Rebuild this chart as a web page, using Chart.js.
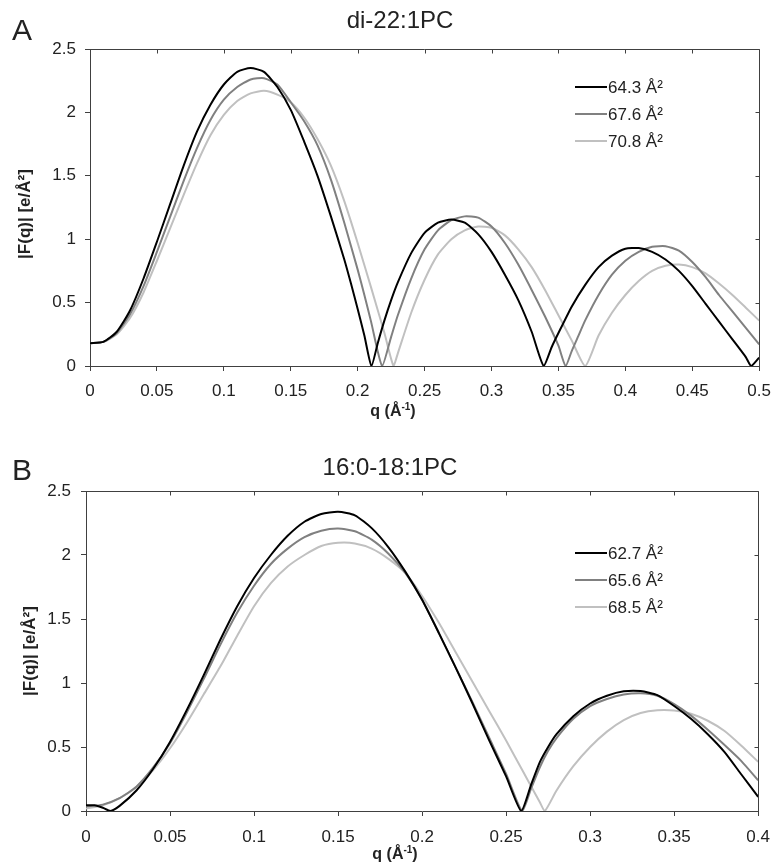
<!DOCTYPE html>
<html>
<head>
<meta charset="utf-8">
<script src="https://cdn.jsdelivr.net/npm/chart.js@4.4.0/dist/chart.umd.min.js"></script>
<style>
  html, body { margin: 0; padding: 0; background: #fff; }
  .panel { position: absolute; left: 0; width: 781px; }
  #pa { top: 0; height: 433px; }
  #pb { top: 433px; height: 434px; }
</style>
</head>
<body>
<div class="panel" id="pa"><canvas id="ca" width="781" height="433"></canvas></div>
<div class="panel" id="pb"><canvas id="cb" width="781" height="434"></canvas></div>
<script>
// tick labels
const xTicksA = [0, 0.05, 0.1, 0.15, 0.2, 0.25, 0.3, 0.35, 0.4, 0.45, 0.5];
const xTicksB = [0, 0.05, 0.1, 0.15, 0.2, 0.25, 0.3, 0.35, 0.4];
const yTicks = [0, 0.5, 1, 1.5, 2, 2.5];

// series labels
const labelsA = ['64.3 Å²', '67.6 Å²', '70.8 Å²'];
const labelsB = ['62.7 Å²', '65.6 Å²', '68.5 Å²'];
const colors = ['#000000', '#808080', '#c0c0c0'];

// panel A: di-22:1PC, [q, |F(q)|]
const a643 = [[0,0.18],[0.01,0.19],[0.02,0.27],[0.03,0.44],[0.04,0.69],[0.05,0.98],[0.06,1.28],[0.07,1.58],
  [0.08,1.85],[0.09,2.06],[0.10,2.22],[0.11,2.32],[0.12,2.35],[0.13,2.32],[0.14,2.20],[0.15,2.02],[0.16,1.77],
  [0.17,1.50],[0.18,1.18],[0.19,0.84],[0.195,0.65],[0.20,0.45],[0.205,0.24],[0.2103,0],[0.215,0.18],[0.22,0.36],
  [0.225,0.52],[0.23,0.66],[0.24,0.89],[0.25,1.05],[0.26,1.13],[0.27,1.155],[0.28,1.13],[0.29,1.04],[0.30,0.90],
  [0.31,0.72],[0.32,0.52],[0.33,0.27],[0.339,0],[0.345,0.15],[0.35,0.26],[0.36,0.47],[0.37,0.64],[0.38,0.78],
  [0.39,0.87],[0.40,0.925],[0.41,0.93],[0.42,0.90],[0.43,0.84],[0.44,0.75],[0.45,0.63],[0.46,0.49],[0.47,0.35],
  [0.48,0.21],[0.49,0.07],[0.494,0],[0.50,0.066]];
const a676 = [[0,0.18],[0.01,0.19],[0.02,0.26],[0.03,0.41],[0.04,0.63],[0.05,0.90],[0.06,1.18],[0.07,1.46],
  [0.08,1.72],[0.09,1.94],[0.10,2.10],[0.11,2.20],[0.12,2.26],[0.13,2.27],[0.14,2.22],[0.15,2.08],[0.16,1.93],
  [0.17,1.74],[0.18,1.47],[0.19,1.13],[0.20,0.76],[0.205,0.56],[0.21,0.35],[0.2183,0],[0.225,0.23],[0.23,0.40],
  [0.24,0.69],[0.25,0.92],[0.26,1.07],[0.27,1.15],[0.28,1.18],[0.29,1.17],[0.30,1.10],[0.31,0.97],[0.32,0.80],
  [0.33,0.60],[0.34,0.39],[0.35,0.16],[0.3554,0],[0.36,0.12],[0.365,0.24],[0.37,0.36],[0.38,0.56],[0.39,0.72],
  [0.40,0.83],[0.41,0.90],[0.42,0.94],[0.43,0.945],[0.44,0.91],[0.45,0.82],[0.46,0.70],[0.47,0.56],[0.48,0.43],
  [0.49,0.30],[0.50,0.17]];
const a708 = [[0,0.18],[0.01,0.19],[0.02,0.25],[0.03,0.38],[0.04,0.58],[0.05,0.83],[0.06,1.09],[0.07,1.35],
  [0.08,1.60],[0.09,1.82],[0.10,1.98],[0.11,2.09],[0.12,2.15],[0.13,2.17],[0.14,2.14],[0.15,2.08],[0.16,1.96],
  [0.17,1.79],[0.18,1.58],[0.19,1.30],[0.20,0.97],[0.21,0.62],[0.22,0.26],[0.2268,0],[0.23,0.10],[0.24,0.42],
  [0.25,0.68],[0.26,0.88],[0.27,1.00],[0.28,1.07],[0.29,1.10],[0.30,1.09],[0.31,1.03],[0.32,0.92],[0.33,0.78],
  [0.34,0.60],[0.35,0.40],[0.36,0.20],[0.37,0],[0.38,0.24],[0.39,0.42],[0.40,0.56],[0.41,0.67],[0.42,0.75],
  [0.43,0.79],[0.44,0.80],[0.45,0.78],[0.46,0.73],[0.47,0.65],[0.48,0.56],[0.49,0.46],[0.50,0.358]];

// panel B: 16:0-18:1PC, [q, |F(q)|]
const b627 = [[0,0.045],[0.005,0.045],[0.01,0.025],[0.0145,0],[0.02,0.04],[0.03,0.16],[0.04,0.33],[0.05,0.54],
  [0.06,0.79],[0.07,1.06],[0.08,1.34],[0.09,1.60],[0.10,1.82],[0.11,2.00],[0.12,2.15],[0.13,2.26],[0.14,2.32],
  [0.15,2.337],[0.16,2.31],[0.17,2.21],[0.18,2.06],[0.19,1.87],[0.20,1.65],[0.21,1.39],[0.22,1.12],[0.23,0.84],
  [0.24,0.55],[0.25,0.27],[0.259,0],[0.265,0.21],[0.27,0.38],[0.275,0.50],[0.28,0.60],[0.29,0.74],[0.30,0.84],
  [0.31,0.90],[0.32,0.935],[0.33,0.937],[0.34,0.905],[0.35,0.82],[0.36,0.72],[0.37,0.60],[0.38,0.46],[0.39,0.285],
  [0.40,0.11]];
const b656 = [[0,0.035],[0.01,0.05],[0.02,0.10],[0.03,0.19],[0.04,0.34],[0.05,0.53],[0.06,0.77],[0.07,1.03],
  [0.08,1.30],[0.09,1.55],[0.10,1.76],[0.11,1.93],[0.12,2.05],[0.13,2.14],[0.14,2.19],[0.15,2.207],[0.16,2.185],
  [0.17,2.12],[0.18,2.01],[0.19,1.86],[0.20,1.65],[0.21,1.39],[0.22,1.12],[0.23,0.85],[0.24,0.57],[0.25,0.29],
  [0.2596,0],[0.265,0.18],[0.27,0.34],[0.275,0.47],[0.28,0.57],[0.29,0.72],[0.30,0.82],[0.31,0.875],[0.32,0.91],
  [0.33,0.92],[0.34,0.90],[0.35,0.835],[0.36,0.745],[0.37,0.635],[0.38,0.515],[0.39,0.39],[0.40,0.24]];
const b685 = [[0,0.02],[0.01,0.045],[0.02,0.10],[0.03,0.19],[0.04,0.32],[0.05,0.49],[0.06,0.69],[0.07,0.91],
  [0.08,1.13],[0.09,1.37],[0.10,1.60],[0.11,1.78],[0.12,1.91],[0.13,2.00],[0.14,2.07],[0.15,2.095],[0.16,2.09],
  [0.17,2.05],[0.18,1.97],[0.19,1.86],[0.20,1.68],[0.21,1.47],[0.22,1.24],[0.23,1.01],[0.24,0.78],[0.25,0.55],
  [0.26,0.31],[0.27,0.07],[0.273,0],[0.28,0.16],[0.29,0.35],[0.30,0.50],[0.31,0.62],[0.32,0.71],[0.33,0.765],
  [0.34,0.787],[0.35,0.785],[0.36,0.76],[0.37,0.705],[0.38,0.625],[0.39,0.51],[0.40,0.384]];

const FONT = "'Liberation Sans', Arial, sans-serif";
const AXIS = '#404040';
const TEXT = '#222222';

// top/right frame with inward ticks, panel texts and legend
const decorPlugin = {
  id: 'decor',
  afterDraw(chart, args, o) {
    const { ctx, chartArea: a, scales: { x, y } } = chart;
    ctx.save();
    ctx.strokeStyle = AXIS;
    ctx.lineWidth = 1;
    ctx.beginPath();
    const top = Math.round(a.top) + 0.5, right = Math.round(a.right) + 0.5;
    ctx.moveTo(a.left, top); ctx.lineTo(right, top); ctx.lineTo(right, a.bottom);
    x.ticks.forEach(t => {
      const px = Math.round(x.getPixelForValue(t.value)) + 0.5;
      ctx.moveTo(px, top); ctx.lineTo(px, top + 4);
    });
    y.ticks.forEach(t => {
      const py = Math.round(y.getPixelForValue(t.value)) + 0.5;
      ctx.moveTo(right, py); ctx.lineTo(right - 4, py);
    });
    ctx.stroke();

    ctx.fillStyle = TEXT;
    ctx.textBaseline = 'middle';
    // panel letter
    ctx.textAlign = 'left';
    ctx.font = '30px ' + FONT;
    ctx.fillText(o.letter, o.letterX, o.letterY);
    // title
    ctx.textAlign = 'center';
    ctx.font = '24px ' + FONT;
    ctx.fillText(o.title, o.titleX, o.titleY);

    // y title
    ctx.font = 'bold 17px ' + FONT;
    ctx.save();
    ctx.translate(o.yTitleX, o.yTitleY);
    ctx.rotate(-Math.PI / 2);
    ctx.fillText('|F(q)| [e/Å²]', 0, 0);
    ctx.restore();

    // x title with superscript
    const p1 = 'q (Å', sup = '-1', p2 = ')';
    ctx.font = 'bold 16px ' + FONT;
    const w1 = ctx.measureText(p1).width, w3 = ctx.measureText(p2).width;
    ctx.font = 'bold 10px ' + FONT;
    const w2 = ctx.measureText(sup).width;
    const sx = o.xTitleX - (w1 + w2 + w3) / 2;
    ctx.textAlign = 'left';
    ctx.font = 'bold 16px ' + FONT;
    ctx.fillText(p1, sx, o.xTitleY);
    ctx.font = 'bold 10px ' + FONT;
    ctx.fillText(sup, sx + w1, o.xTitleY - 5);
    ctx.font = 'bold 16px ' + FONT;
    ctx.fillText(p2, sx + w1 + w2, o.xTitleY);

    // legend
    ctx.font = '17px ' + FONT;
    chart.data.datasets.forEach((ds, i) => {
      const ly = o.legY + i * o.legGap;
      ctx.strokeStyle = ds.borderColor;
      ctx.lineWidth = 2;
      ctx.beginPath();
      ctx.moveTo(o.legX, ly); ctx.lineTo(o.legX + 32, ly);
      ctx.stroke();
      ctx.fillStyle = TEXT;
      ctx.fillText(ds.label, o.legX + 33, ly + 1);
    });
    ctx.restore();
  }
};

function makeChart(id, series, labels, xTicks, xMax, lay, decor) {
  return new Chart(document.getElementById(id), {
    type: 'line',
    data: {
      datasets: series.map((pts, i) => ({
        label: labels[i],
        data: pts.map(([q, f]) => ({ x: q, y: f })),
        borderColor: colors[i],
        borderWidth: 2,
        pointRadius: 0,
        tension: 0.2,
        fill: false
      }))
    },
    options: {
      responsive: false,
      animation: false,
      events: [],
      layout: { padding: { top: lay.top, right: lay.right, bottom: 0, left: 0 } },
      plugins: { legend: { display: false }, tooltip: { enabled: false }, decor: decor },
      scales: {
        x: {
          type: 'linear', min: 0, max: xMax,
          afterBuildTicks: s => { s.ticks = xTicks.map(v => ({ value: v })); },
          afterFit: s => { s.height = lay.xH; },
          ticks: {
            autoSkip: false, maxRotation: 0, padding: lay.xPad,
            color: TEXT, font: { family: FONT, size: 17 },
            callback: v => String(+v.toFixed(2))
          },
          grid: { drawOnChartArea: false, tickLength: 5, color: AXIS },
          border: { color: AXIS, width: 1 }
        },
        y: {
          min: 0, max: 2.5,
          afterBuildTicks: s => { s.ticks = yTicks.map(v => ({ value: v })); },
          afterFit: s => { s.width = lay.yW; },
          ticks: {
            padding: lay.yPad, color: TEXT, font: { family: FONT, size: 17 },
            callback: v => String(+v.toFixed(2))
          },
          grid: { drawOnChartArea: false, tickLength: 5, color: AXIS },
          border: { color: AXIS, width: 1 }
        }
      }
    },
    plugins: [decorPlugin]
  });
}

makeChart('ca', [a643, a676, a708], labelsA, xTicksA, 0.5,
  { top: 49, right: 12, xH: 67, yW: 90, xPad: 10, yPad: 9 },
  { letter: 'A', letterX: 12, letterY: 32, title: 'di-22:1PC', titleX: 400, titleY: 21,
    yTitleX: 25, yTitleY: 214, xTitleX: 393, xTitleY: 412, legX: 575, legY: 87, legGap: 27 });

makeChart('cb', [b627, b656, b685], labelsB, xTicksB, 0.4,
  { top: 58, right: 13, xH: 56, yW: 86, xPad: 11, yPad: 10 },
  { letter: 'B', letterX: 12, letterY: 39, title: '16:0-18:1PC', titleX: 390, titleY: 35,
    yTitleX: 30, yTitleY: 218, xTitleX: 395, xTitleY: 422, legX: 575, legY: 120, legGap: 27 });
</script>
</body>
</html>
